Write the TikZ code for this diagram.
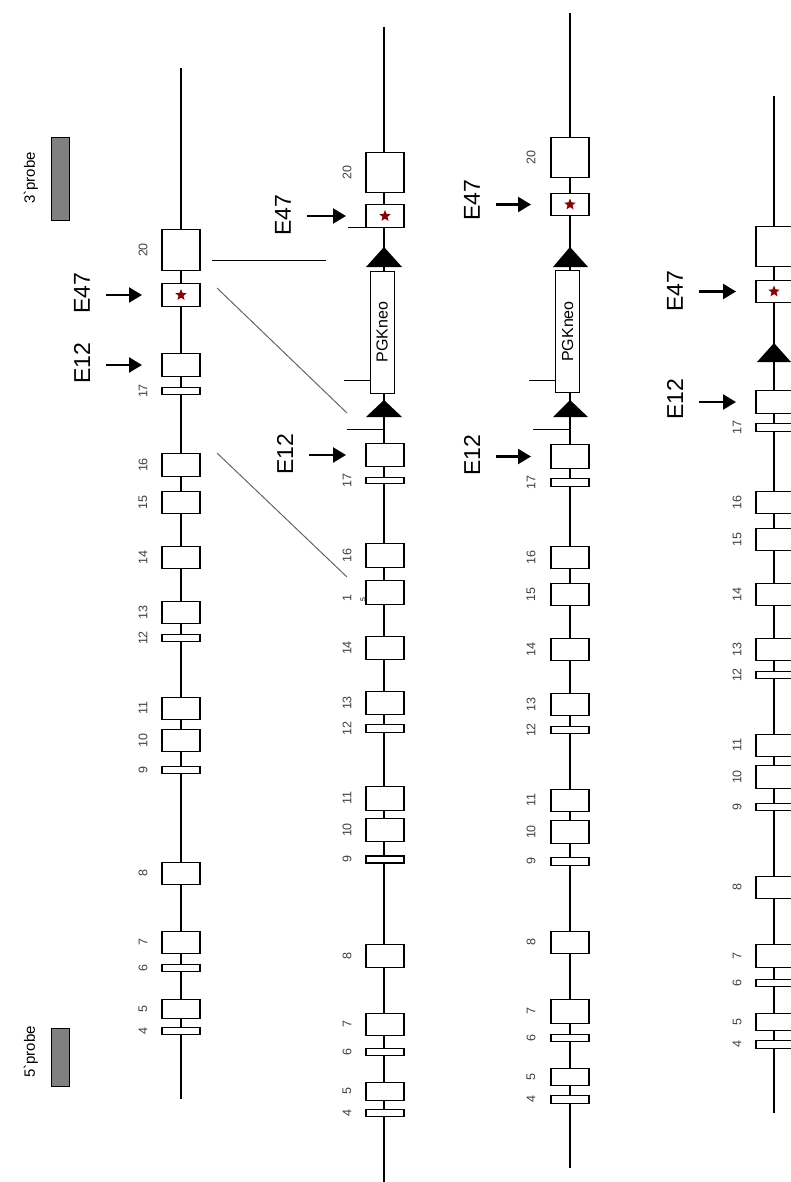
\documentclass[tikz,border=0pt]{standalone}
\usepackage{fontspec}
\setmainfont{Liberation Sans}
\usetikzlibrary{arrows.meta,shapes.geometric}
\begin{document}
\begin{tikzpicture}[x=1pt,y=-1pt,
    gene/.style={line width=1.2pt},
    exon/.style={draw,fill=white,line width=1.2pt,minimum width=38pt,inner sep=0pt,outer sep=0pt},
    num/.style={rotate=90,text=black!75,font=\fontsize{12.5}{12.5}\selectfont,inner sep=1pt},
    tag/.style={rotate=90,font=\fontsize{23}{23}\selectfont,inner sep=1pt},
    arr/.style={-{Triangle[length=13pt,width=15pt]},line width=2.4pt,shorten <=24pt,shorten >=20pt},
    mut/.style={star,star points=5,star point ratio=2.3,fill=red!55!black,minimum size=12pt,inner sep=0pt},
    probe/.style={draw,fill=black!50,line width=0.8pt,minimum width=18pt,inner sep=0pt},
    neo/.style={exon,line width=1pt,minimum width=24pt,minimum height=122pt,font=\fontsize{16}{16}\selectfont}]
    \useasboundingbox (0,0) rectangle (790,1182);

    % Probes
    \node[probe,minimum height=83pt] (p3) at (60,178.5) {};
    \node[probe,minimum height=58pt] (p5) at (60,1057) {};
    \node[rotate=90,font=\fontsize{15}{15}\selectfont] (p3l) at (31,178) {3\textasciigrave probe};
    \node[rotate=90,font=\fontsize{15}{15}\selectfont] (p5l) at (31,1052) {5\textasciigrave probe};

    % Wild type allele
    \draw[gene] (181,68) -- (181,1099);
    \foreach \y/\h/\n in {250/41/20, 391/7/17, 465/23/16, 502.5/22/15, 557.5/22/14, 612.5/22/13,
        638/7/12, 708.5/22/11, 740.5/22/10, 770/7/9, 873.5/22/8, 942.5/22/7, 968/7/6, 1009/19/5, 1031/7/4} {
        \node[exon,minimum height=\h pt] (a\n) at (181,\y) {};
        \node[num] (na\n) at (143,\y) {\n};
    }
    \node[exon,minimum height=23pt] (a47) at (181,295) {};
    \node[mut] (sa) at (a47) {};
    \node[exon,minimum height=23pt] (a12) at (181,365) {};
    \node[tag] (e47a) at (82,293) {E47};
    \node[tag] (e12a) at (82,363) {E12};
    \draw[arr] (e47a.center |- a47) -- (a47.west);
    \draw[arr] (e12a.center |- a12) -- (a12.west);

    % Targeting lines
    \draw[line width=1pt] (212,260) -- (326,260);
    \draw[line width=1pt,black!60] (217,288) -- (347,413);
    \draw[line width=1pt,black!60] (217,453) -- (347,577);

    % Targeting vector
    \draw[gene] (384,27) -- (384,1182);
    \foreach \y/\h/\n in {172.5/40/20, 480.5/6/17, 555.5/24/16, 648/23/14, 703/23/13,
        728.5/8/12, 798.5/24/11, 830/23/10, 859.5/7/9, 956/23/8, 1024.5/22/7, 1052/7/6, 1091.5/18/5, 1113/7/4} {
        \node[exon,minimum height=\h pt] (b\n) at (385,\y) {};
        \node[num] (nb\n) at (347,\y) {\n};
    }
    \node[exon,minimum height=24pt] (b15) at (385,592.5) {};
    \node[num] (nb15) at (347,598) {1};
    \node[rotate=90,text=black,font=\fontsize{7}{7}\selectfont,inner sep=0pt] (nb15b) at (363,600) {5};
    \node[exon,minimum height=23pt] (b47) at (385,216) {};
    \node[mut] (sb) at (b47) {};
    \node[exon,minimum height=23pt] (b12) at (385,455) {};
    \node[neo] (neob) at (382,332) {\rotatebox{90}{PGKneo}};
    \fill (384,247) -- (366,267) -- (402,267) -- cycle;
    \fill (384,400) -- (366,417) -- (402,417) -- cycle;
    \draw[line width=1pt] (348,228) -- (384,228);
    \draw[line width=1pt] (344,380) -- (neob.west |- 0,380);
    \draw[line width=1pt] (347,429) -- (384,429);
    \node[tag] (e47b) at (283,215) {E47};
    \node[tag] (e12b) at (285,454) {E12};
    \draw[arr] (e47b.center |- b47) -- (b47.west);
    \draw[arr] (e12b.center |- b12) -- (b12.west);

    % Targeted allele
    \draw[gene] (570,13) -- (570,1168);
    \foreach \y/\h/\n in {157.5/40/20, 482.5/8/17, 557.5/22/16, 594.5/22/15, 649.5/22/14, 704.5/22/13,
        730/7/12, 800.5/22/11, 832/23/10, 861.5/8/9, 942.5/22/8, 1011.5/24/7, 1038/7/6, 1077/17/5, 1099.5/8/4} {
        \node[exon,minimum height=\h pt] (c\n) at (570,\y) {};
        \node[num] (nc\n) at (531,\y) {\n};
    }
    \node[exon,minimum height=22pt] (c47) at (570,204.5) {};
    \node[mut] (sc) at (c47) {};
    \node[exon,minimum height=24pt] (c12) at (570,456.5) {};
    \node[neo] (neoc) at (567.5,331.5) {\rotatebox{90}{PGKneo}};
    \fill (570,247) -- (553,267) -- (588,267) -- cycle;
    \fill (570,400) -- (553,417) -- (588,417) -- cycle;
    \draw[line width=1pt] (529,380) -- (neoc.west |- 0,380);
    \draw[line width=1pt] (533,429) -- (570,429);
    \node[tag] (e47c) at (472,200) {E47};
    \node[tag] (e12c) at (472,455) {E12};
    \draw[arr] (e47c.center |- c47) -- (c47.west);
    \draw[arr] (e12c.center |- c12) -- (c12.west);

    % Deleted allele
    \draw[gene] (774,96) -- (774,1113);
    \node[exon,minimum height=40pt] (d20) at (775,246.5) {};
    \foreach \y/\h/\n in {427.5/8/17, 502.5/22/16, 539.5/22/15, 594.5/22/14, 649.5/22/13,
        675/7/12, 745.5/22/11, 777/23/10, 807/7/9, 887.5/22/8, 956/23/7, 983/7/6, 1022/17/5, 1044.5/8/4} {
        \node[exon,minimum height=\h pt] (d\n) at (775,\y) {};
        \node[num] (nd\n) at (737,\y) {\n};
    }
    \node[exon,minimum height=22pt] (d47) at (775,291.5) {};
    \node[mut] (sd) at (774,291.5) {};
    \node[exon,minimum height=23pt] (d12) at (775,402) {};
    \fill (774,343) -- (757,362) -- (791,362) -- cycle;
    \node[tag] (e47d) at (675,291) {E47};
    \node[tag] (e12d) at (675,399) {E12};
    \draw[arr] (e47d.center |- d47) -- (d47.west);
    \draw[arr] (e12d.center |- d12) -- (d12.west);
\end{tikzpicture}
\end{document}
